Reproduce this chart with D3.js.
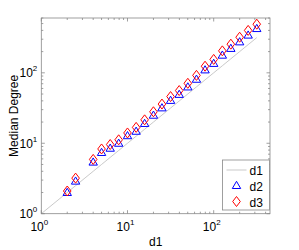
<!DOCTYPE html>
<html>
<head>
<meta charset="utf-8">
<script src="https://d3js.org/d3.v7.min.js"></script>
<style>
  body { margin: 0; background: #fff; }
  svg { display: block; }
</style>
</head>
<body>
<div id="chart"></div>
<script>
// data (log-binned d1 values)
const d1Vals = [2, 2.5, 4, 5, 6.3, 7.9, 10, 12.6, 15.8, 20, 25.1, 31.6, 39.8, 50.1, 63.1, 79.4, 100, 126, 158, 200, 251, 316];
const d2Vals = [2, 2.9, 5.4, 7.4, 8.5, 10, 12.8, 14.8, 19.1, 25, 31.8, 40.6, 49.4, 63, 81, 110, 136, 178, 222, 275, 343, 425];
const d3Vals = [2.1, 3.2, 5.9, 8.3, 9.6, 11.2, 14, 16.8, 21.5, 28, 36, 46, 56, 71, 92, 124, 155, 205, 255, 320, 400, 490];
const lineX = [1].concat(d1Vals);
const decades = [1, 10, 100];
const exps = ["0", "1", "2"];
const seriesNames = ["d1", "d2", "d3"];

const W = 299, H = 250;
const m = { left: 41.3, top: 18, right: 29, bottom: 36.3 };
const pw = W - m.left - m.right, ph = H - m.top - m.bottom;
const FONT = "Liberation Sans, Arial, sans-serif";
const AXIS = "#888";

const svg = d3.select("#chart").append("svg")
    .attr("width", W).attr("height", H);

const x = d3.scaleLog().domain([1, 450]).range([m.left, m.left + pw]);
const y = d3.scaleLog().domain([1, 600]).range([m.top + ph, m.top]);

// minor ticks 2..9 per decade
const minors = [];
decades.forEach(d => { for (let i = 2; i <= 9; i++) minors.push(d * i); });
const xMin = minors.filter(v => v <= 450);
const yMin = minors.filter(v => v <= 600);

const g = svg.append("g");

function ticks(vals, len) {
    vals.forEach(v => {
        const px = x(v);
        g.append("line").attr("x1", px).attr("x2", px).attr("y1", m.top + ph).attr("y2", m.top + ph - len);
        g.append("line").attr("x1", px).attr("x2", px).attr("y1", m.top).attr("y2", m.top + len);
    });
}
function yticks(vals, len) {
    vals.forEach(v => {
        const py = y(v);
        g.append("line").attr("y1", py).attr("y2", py).attr("x1", m.left).attr("x2", m.left + len);
        g.append("line").attr("y1", py).attr("y2", py).attr("x1", m.left + pw).attr("x2", m.left + pw - len);
    });
}
ticks(xMin, 2); ticks(decades, 3.5);
yticks(yMin, 2); yticks(decades, 3.5);
g.selectAll("line").attr("stroke", AXIS).attr("stroke-width", 0.8);

// d1 reference line
const line = d3.line().x(d => x(d)).y(d => y(d));
svg.append("path").datum(lineX)
    .attr("d", line)
    .attr("fill", "none")
    .attr("stroke", "#bbb")
    .attr("stroke-width", 0.8);

// markers
function triPath(cx, cy) {
    return `M${cx},${cy - 4.2}L${cx + 4.2},${cy + 3}L${cx - 4.2},${cy + 3}Z`;
}
function diaPath(cx, cy) {
    return `M${cx},${cy - 5}L${cx + 3.8},${cy}L${cx},${cy + 5}L${cx - 3.8},${cy}Z`;
}
svg.append("g").selectAll("path").data(d1Vals)
    .join("path")
    .attr("d", (d, i) => triPath(x(d), y(d2Vals[i])))
    .attr("fill", "none").attr("stroke", "#0000ff").attr("stroke-width", 1);
svg.append("g").selectAll("path").data(d1Vals)
    .join("path")
    .attr("d", (d, i) => diaPath(x(d), y(d3Vals[i])))
    .attr("fill", "none").attr("stroke", "#ff0000").attr("stroke-width", 1);

// box
svg.append("rect")
    .attr("x", m.left).attr("y", m.top).attr("width", pw).attr("height", ph)
    .attr("fill", "none").attr("stroke", AXIS).attr("stroke-width", 0.8);

// tick labels
decades.forEach((d, i) => {
    const t = svg.append("text")
        .attr("x", x(d) - 2).attr("y", m.top + ph + 17.5)
        .attr("text-anchor", "middle")
        .attr("font-family", FONT).attr("font-size", 12).attr("fill", "#000");
    t.append("tspan").text("10");
    t.append("tspan").text(exps[i]).attr("font-size", 8).attr("dy", -6);

    const t2 = svg.append("text")
        .attr("x", m.left - 4).attr("y", y(d) + 4.5)
        .attr("text-anchor", "end")
        .attr("font-family", FONT).attr("font-size", 12).attr("fill", "#000");
    t2.append("tspan").text("10");
    t2.append("tspan").text(exps[i]).attr("font-size", 8).attr("dy", -6);
});

// axis titles
svg.append("text")
    .attr("x", m.left + pw / 2).attr("y", 246)
    .attr("text-anchor", "middle")
    .attr("font-family", FONT).attr("font-size", 12)
    .text("d1");
svg.append("text")
    .attr("transform", `translate(17.5, ${m.top + ph / 2}) rotate(-90)`)
    .attr("text-anchor", "middle")
    .attr("font-family", FONT).attr("font-size", 12)
    .text("Median Degree");

// legend
const lg = svg.append("g").attr("transform", "translate(222.5, 160)");
lg.append("rect").attr("width", 47).attr("height", 50)
    .attr("fill", "#fff").attr("stroke", AXIS).attr("stroke-width", 0.8);
lg.append("line").attr("x1", 4).attr("x2", 24).attr("y1", 10).attr("y2", 10)
    .attr("stroke", "#bbb").attr("stroke-width", 0.8);
lg.append("path").attr("d", triPath(14, 25.5))
    .attr("fill", "none").attr("stroke", "#0000ff");
lg.append("path").attr("d", diaPath(14, 41.5))
    .attr("fill", "none").attr("stroke", "#ff0000");
seriesNames.forEach((s, i) => {
    lg.append("text")
        .attr("x", 27).attr("y", 14.5 + i * 16)
        .attr("font-family", FONT).attr("font-size", 12)
        .text(s);
});
</script>
</body>
</html>
